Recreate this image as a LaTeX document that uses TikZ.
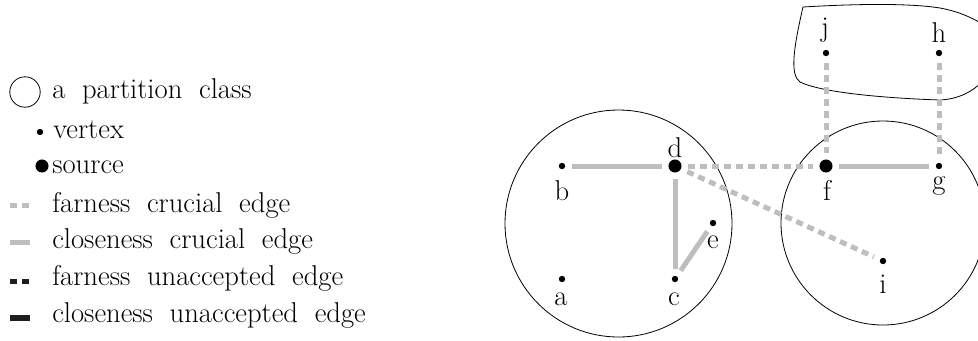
\documentclass[tikz,border=0pt]{standalone}
\usetikzlibrary{calc}
\definecolor{lgray}{RGB}{190,190,190}
\definecolor{dgray}{RGB}{30,30,30}
\newcommand{\legfont}{\fontsize{21.5}{25}\selectfont\spaceskip=12.5pt\relax}
\begin{document}
\begin{tikzpicture}[x=0.75pt,y=-0.75pt,
  vtx/.style={circle,fill=black,inner sep=0pt,minimum size=4.8pt},
  srcv/.style={circle,fill=black,inner sep=0pt,minimum size=9.8pt},
  lbl/.style={inner sep=0pt,anchor=base,font=\legfont},
  ltxt/.style={inner sep=0pt,anchor=base west,font=\legfont},
  part/.style={draw=black,line width=0.6pt},
  ccrucial/.style={draw=lgray,line width=3.75pt,shorten <=5pt,shorten >=5pt},
  fcrucial/.style={draw=lgray,line width=3.75pt,dash pattern=on 5.25pt off 3.75pt,shorten <=5pt,shorten >=5pt},
  cunacc/.style={draw=dgray,line width=4pt},
  funacc/.style={draw=dgray,line width=3.75pt,dash pattern=on 5.25pt off 3.75pt},
]
\useasboundingbox (0,0) rectangle (978,340);
% partition classes
\draw[part] (618.5,223.5) circle[radius=113.5];
\draw[part] (883,223) circle[radius=102];
\draw[part] (803,7) .. controls (870,3) and (915,4) .. (940,8)
  .. controls (968,13) and (995,28) .. (1002,45)
  .. controls (995,70) and (978,98) .. (940,100)
  .. controls (880,98) and (820,92) .. (800,82)
  .. controls (790,75) and (793,50) .. (803,7) -- cycle;
% vertices
\node[vtx] (a) at (562,279) {};
\node[vtx] (b) at (562,166) {};
\node[vtx] (c) at (675,279) {};
\node[srcv] (d) at (675,166) {};
\node[vtx] (e) at (713,223) {};
\node[srcv] (f) at (826,166) {};
\node[vtx] (g) at (939,166) {};
\node[vtx] (h) at (939,53) {};
\node[vtx] (i) at (883,261) {};
\node[vtx] (j) at (826,53) {};
% labels
\node[lbl] (la) at (561,305) {a};
\node[lbl] (lb) at (562,200) {b};
\node[lbl] (lc) at (674,305) {c};
\node[lbl] (ld) at (675,157) {d};
\node[lbl] (le) at (713,248) {e};
\node[lbl] (lf) at (827,200) {f};
\node[lbl] (lg) at (939,189) {g};
\node[lbl] (lh) at (939,42) {h};
\node[lbl] (li) at (883,293) {i};
\node[lbl] (lj) at (825,36) {j};
% edges
\draw[ccrucial] (b) -- (d);
\draw[ccrucial] (d) -- (c);
\draw[ccrucial] (c) -- (e);
\draw[ccrucial] (f) -- (g);
\draw[fcrucial] (d) -- (f);
\draw[fcrucial] (d) -- (i);
\draw[fcrucial] (j) -- (f);
\draw[fcrucial] (h) -- (g);
% legend
\node[draw=black,line width=0.6pt,circle,inner sep=0pt,minimum size=22.8pt] (lcirc) at (25,92) {};
\node[ltxt] (t1) at (52,98) {a partition class};
\node[vtx] (lv) at (40,132) {};
\node[ltxt] (t2) at (53,138) {vertex};
\node[srcv] (ls) at (42,166) {};
\node[ltxt] (t3) at (52,173) {source};
\coordinate (fa1) at (10,205); \coordinate (fa2) at (30,205);
\draw[draw=lgray,line width=3.75pt,dash pattern=on 5.25pt off 3.75pt] (fa1) -- (fa2);
\node[ltxt] (t4) at (52,212) {farness crucial edge};
\coordinate (cc1) at (10,242); \coordinate (cc2) at (30,242);
\draw[draw=lgray,line width=3.75pt] (cc1) -- (cc2);
\node[ltxt] (t5) at (52,248) {closeness crucial edge};
\coordinate (fu1) at (10,281); \coordinate (fu2) at (30,281);
\draw[funacc] (fu1) -- (fu2);
\node[ltxt] (t6) at (52,285) {farness unaccepted edge};
\coordinate (cu1) at (10,318); \coordinate (cu2) at (30,318);
\draw[cunacc] (cu1) -- (cu2);
\node[ltxt] (t7) at (52,322) {closeness unaccepted edge};
\end{tikzpicture}
\end{document}
